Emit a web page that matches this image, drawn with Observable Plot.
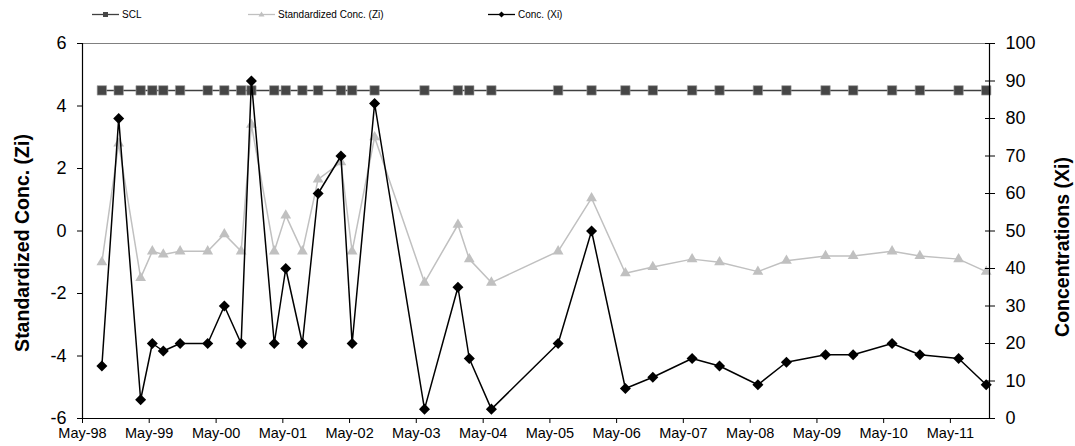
<!DOCTYPE html>
<html><head><meta charset="utf-8">
<script src="https://cdn.jsdelivr.net/npm/d3@7"></script>
<script src="https://cdn.jsdelivr.net/npm/@observablehq/plot@0.6"></script>
<style>
body{margin:0;background:#fff;font-family:"Liberation Sans",Arial,sans-serif;}
#legend{position:relative;width:1075px;height:28px;}
.item{position:absolute;top:8px;height:12px;display:flex;align-items:center;font-size:10px;color:#000;white-space:pre;}
.item svg{margin-right:3px;display:block}
</style></head><body>
<div id="legend"></div><div id="chart"></div>
<script>
// ---- data ----
const sampleDates = ["1998-08-15","1998-11-15","1999-03-15","1999-05-18","1999-07-17","1999-10-17",
  "2000-03-16","2000-06-15","2000-09-15","2000-11-10","2001-03-15","2001-05-17","2001-08-16",
  "2001-11-10","2002-03-15","2002-05-15","2002-09-15","2003-06-15","2003-12-15","2004-02-15",
  "2004-06-15","2005-06-15","2005-12-15","2006-06-18","2006-11-15","2007-06-18","2007-11-15",
  "2008-06-12","2008-11-15","2009-06-17","2009-11-15","2010-06-16","2010-11-15","2011-06-15","2011-11-13"];
const ziValues = [-1.0,2.8,-1.5,-0.65,-0.75,-0.65,-0.65,-0.1,-0.65,3.4,-0.65,0.5,-0.65,1.65,2.2,-0.65,3.0,
  -1.65,0.2,-0.9,-1.65,-0.65,1.05,-1.35,-1.15,-0.9,-1.0,-1.3,-0.95,-0.8,-0.8,-0.65,-0.8,-0.9,-1.3];
const xiValues = [14,80,5,20,18,20,20,30,20,90,20,40,20,60,70,20,84,2.5,35,16,2.5,20,50,8,11,16,14,9,15,17,17,20,17,16,9];
const sclValue = 4.5;
const leftTicks = [-6,-4,-2,0,2,4,6];
const rightTicks = [0,10,20,30,40,50,60,70,80,90,100];
const xTicks = ["1998-05-01","1999-05-01","2000-05-01","2001-05-01","2002-05-01","2003-05-01","2004-05-01",
  "2005-05-01","2006-05-01","2007-05-01","2008-05-01","2009-05-01","2010-05-01","2011-05-01"];
const xDomain = ["1998-05-01","2011-12-01"];
const leftDomain = [-6, 6];
const rightDomain = [0, 100];
const seriesNames = ["SCL","Standardized Conc. (Zi)","Conc. (Xi)"];
const leftTitle = "Standardized Conc. (Zi)";
const rightTitle = "Concentrations (Xi)";

// map right-axis (Xi) values onto the left (Zi) scale
const toZ = v => leftDomain[0] + (v - rightDomain[0]) * (leftDomain[1]-leftDomain[0]) / (rightDomain[1]-rightDomain[0]);
const fromZ = z => Math.round(rightDomain[0] + (z - leftDomain[0]) * (rightDomain[1]-rightDomain[0]) / (leftDomain[1]-leftDomain[0]));

const parse = d3.utcParse("%Y-%m-%d");
const rows = sampleDates.map((d,i) => ({date: parse(d), zi: ziValues[i], xz: toZ(xiValues[i]), scl: sclValue}));

const diamond = {draw(ctx, size){ const h = Math.sqrt(size/2); ctx.moveTo(0,-h); ctx.lineTo(h,0); ctx.lineTo(0,h); ctx.lineTo(-h,0); ctx.closePath(); }};

const C_SCL = "#404040", C_ZI = "#c0c0c0", C_XI = "#000000";

const chart = Plot.plot({
  width: 1075, height: 418,
  marginTop: 15, marginBottom: 28, marginLeft: 82, marginRight: 86,
  style: {fontFamily: "'Liberation Sans', Arial, sans-serif", fontSize: "18px", background: "#fff", color: "#000"},
  x: {type: "utc", domain: xDomain.map(parse)},
  y: {domain: leftDomain},
  marks: [
    Plot.ruleY([leftDomain[1]], {stroke: "#808080", strokeWidth: 1}),
    Plot.lineY(rows, {x: "date", y: "scl", stroke: C_SCL, strokeWidth: 1.5}),
    Plot.dot(rows, {x: "date", y: "scl", symbol: "square", r: 5.3, fill: "#464646", stroke: "#a0a0a0", strokeWidth: 0.6}),
    Plot.lineY(rows, {x: "date", y: "zi", stroke: C_ZI, strokeWidth: 1.5}),
    Plot.dot(rows, {x: "date", y: "zi", symbol: "triangle", r: 4, fill: C_ZI, stroke: "none"}),
    Plot.lineY(rows, {x: "date", y: "xz", stroke: C_XI, strokeWidth: 1.5}),
    Plot.dot(rows, {x: "date", y: "xz", symbol: diamond, r: 4.4, fill: C_XI, stroke: "none"}),
    Plot.ruleX([parse(xDomain[0])], {stroke: "#000", strokeWidth: 1.2}),
    Plot.ruleX([parse(xDomain[1])], {stroke: "#000", strokeWidth: 1.2}),
    Plot.ruleY([leftDomain[0]], {stroke: "#000", strokeWidth: 1.2}),
    Plot.axisY(leftTicks, {anchor: "left", tickSize: 5, tickPadding: 11, fontSize: 18, label: null, tickFormat: d => d < 0 ? "-" + Math.abs(d) : String(d)}),
    Plot.axisY(rightTicks.map(toZ), {anchor: "right", tickSize: 10, dx: -5, tickPadding: 11, fontSize: 18, label: null, tickFormat: fromZ}),
    Plot.axisX(xTicks.map(parse), {anchor: "bottom", tickSize: 5, tickPadding: 4, fontSize: 14.5, label: null, tickFormat: d3.utcFormat("%b-%y")}),
    Plot.text([leftTitle], {text: d => d, frameAnchor: "left", textAnchor: "middle", lineAnchor: "middle", rotate: -90, dx: -60, dy: 12, fontSize: 19.5, fontWeight: "bold"}),
    Plot.text([rightTitle], {text: d => d, frameAnchor: "right", textAnchor: "middle", lineAnchor: "middle", rotate: -90, dx: 73, dy: 16, fontSize: 19.5, fontWeight: "bold"})
  ]
});
document.getElementById("chart").appendChild(chart);

// ---- legend (HTML, above the SVG) ----
const legendLeft = [92, 248, 488];
const legendStyles = [
  {stroke: C_SCL, marker: '<rect x="11" y="3" width="5" height="5" fill="#464646"/>'},
  {stroke: C_ZI, marker: '<path d="M13.5,2.5 L16.5,7.5 L10.5,7.5 Z" fill="#c0c0c0"/>'},
  {stroke: C_XI, marker: '<path d="M13.5,2.5 L16.5,5.5 L13.5,8.5 L10.5,5.5 Z" fill="#000"/>'}
];
const legend = document.getElementById("legend");
seriesNames.forEach((name, i) => {
  const it = document.createElement("div");
  it.className = "item";
  it.style.left = legendLeft[i] + "px";
  it.innerHTML = `<svg width="27" height="11"><line x1="0" x2="27" y1="5.5" y2="5.5" stroke="${legendStyles[i].stroke}" stroke-width="1.3"/>${legendStyles[i].marker}</svg><span>${name}</span>`;
  legend.appendChild(it);
});
</script></body></html>
